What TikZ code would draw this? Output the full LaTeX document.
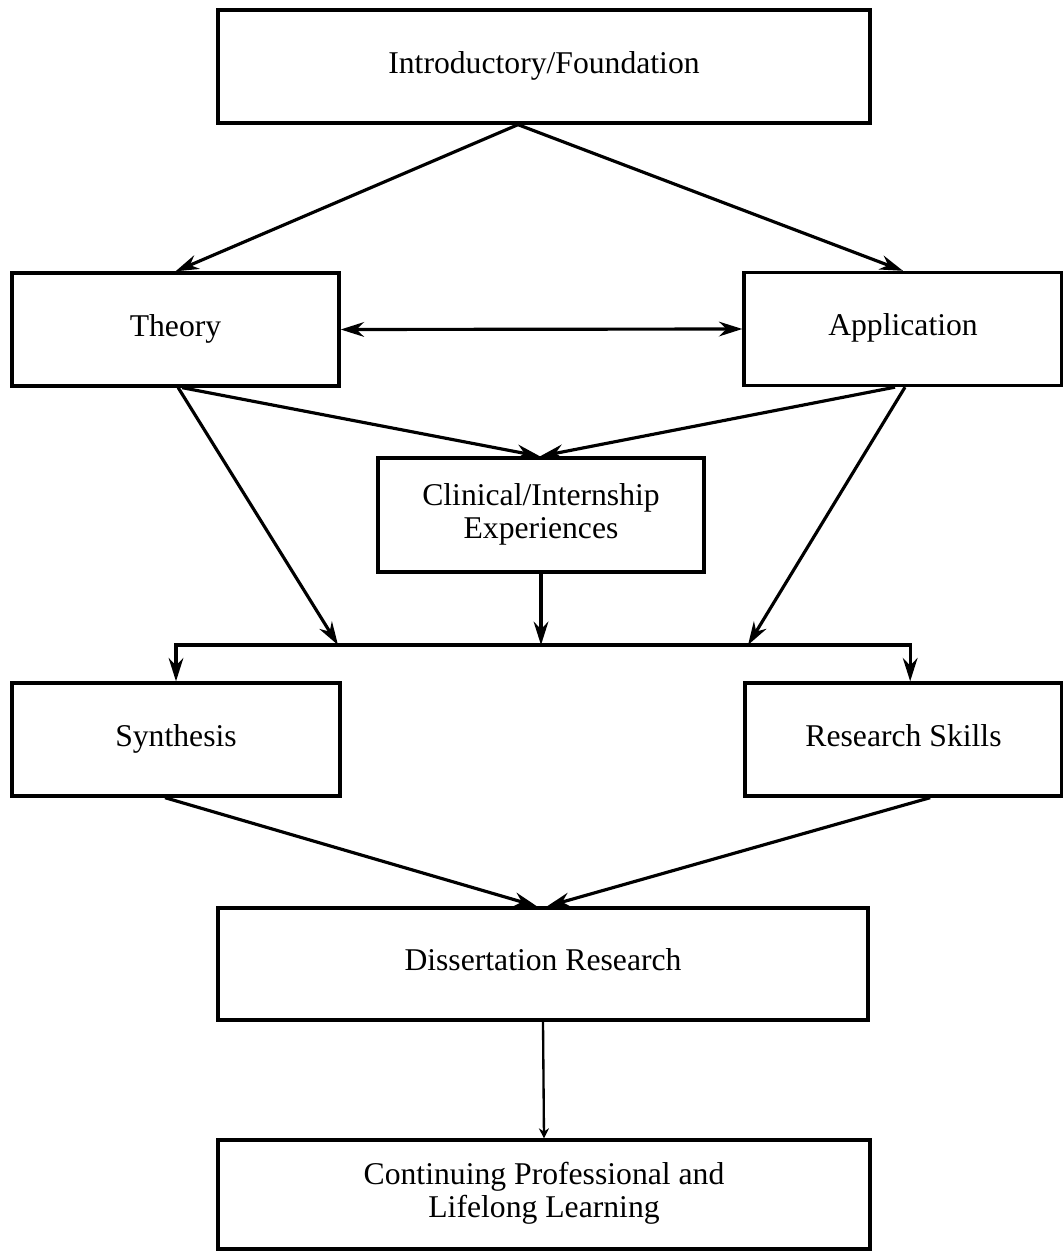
\documentclass[tikz,border=0pt]{standalone}
\usepackage{fontspec}
\setmainfont{Liberation Serif}
\usetikzlibrary{arrows.meta}
\begin{document}
\begin{tikzpicture}[x=0.3pt,y=-0.3pt,
  box/.style={draw,line width=1pt,inner sep=0pt,align=center,font=\fontsize{9.5}{10}\selectfont},
  arr/.style={line width=0.95pt,-{Stealth[length=7pt,width=4.4pt]}},
  darr/.style={line width=0.95pt,{Stealth[length=7pt,width=4.4pt]}-{Stealth[length=7pt,width=4.4pt]}},
  sarr/.style={line width=0.7pt,-{Stealth[length=3pt,width=3pt]}}]
\useasboundingbox (0,0) rectangle (1063,1251);
\node[box,minimum width=652*0.3pt,minimum height=113*0.3pt] (intro) at (544,66.5) {\strut Introductory/Foundation};
\node[box,minimum width=327*0.3pt,minimum height=113*0.3pt] (theory) at (175.5,329.5) {\strut Theory};
\node[box,minimum width=318*0.3pt,minimum height=113*0.3pt] (app) at (903,329) {\strut Application};
\node[box,minimum width=326*0.3pt,minimum height=114*0.3pt] (clin) at (541,515) {\strut Clinical/Internship\\\strut Experiences};
\node[box,minimum width=328*0.3pt,minimum height=113*0.3pt] (syn) at (176,739.5) {\strut Synthesis};
\node[box,minimum width=317*0.3pt,minimum height=113*0.3pt] (rs) at (903.5,739.5) {\strut Research Skills};
\node[box,minimum width=650*0.3pt,minimum height=112*0.3pt] (diss) at (543,964) {\strut Dissertation Research};
\node[box,minimum width=652*0.3pt,minimum height=109*0.3pt] (cont) at (544,1194.5) {\strut Continuing Professional and\\\strut Lifelong Learning};
\coordinate (jl) at (338,645);
\coordinate (jc) at (541,645);
\coordinate (jr) at (748,645);
% top fan
\draw[arr] ([xshift=-7.8pt]intro.south) -- (theory.north);
\draw[arr] ([xshift=-7.8pt]intro.south) -- (app.north);
\draw[darr] (theory.east) -- (app.west);
% to clinical
\draw[arr] ([xshift=2pt]theory.south) -- ([xshift=-0.3pt]clin.north);
\draw[arr] ([xshift=-2.4pt]app.south) -- ([xshift=-0.3pt]clin.north);
% to bus
\draw[arr] ([xshift=0.8pt]theory.south) -- (jl);
\draw[arr] ([xshift=0.6pt]app.south) -- (jr);
\draw[arr] (clin.south) -- (jc);
\draw[arr] (jc) -| (syn.north);
\draw[arr] (jc) -| ([xshift=2pt]rs.north);
% to dissertation
\draw[arr] ([xshift=-3.3pt]syn.south) -- ([xshift=-1.8pt]diss.north);
\draw[arr] ([xshift=8pt]rs.south) -- ([xshift=1.2pt]diss.north);
\draw[sarr] (diss.south) -- (cont.north);
\end{tikzpicture}
\end{document}
